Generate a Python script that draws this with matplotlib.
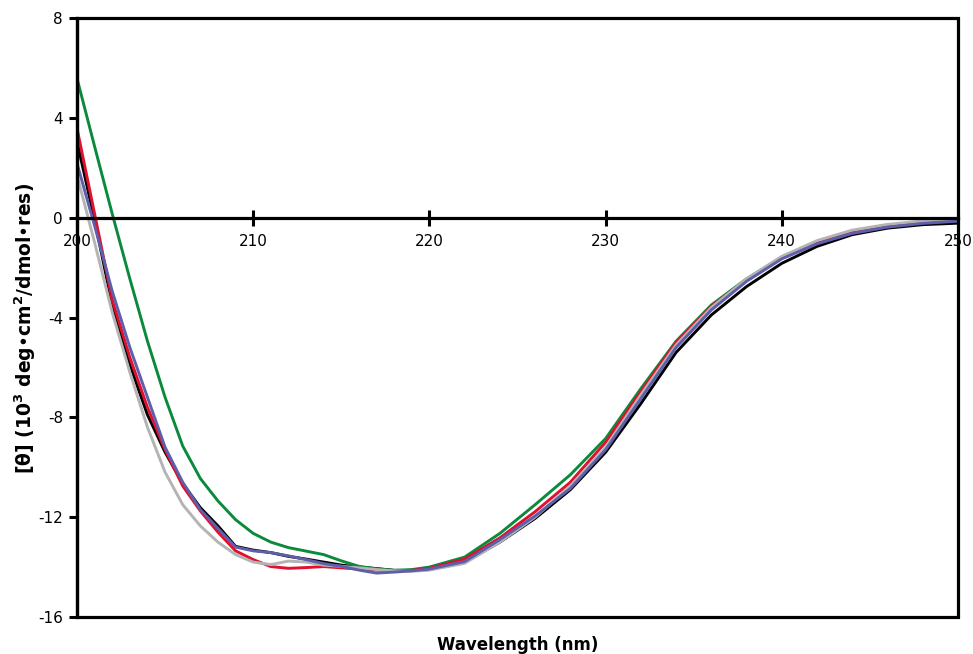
import matplotlib
matplotlib.use("Agg")
import matplotlib.pyplot as plt
from matplotlib.patches import Rectangle

plt.rcParams['font.family'] = ['DejaVu Sans']
plt.rcParams['axes.unicode_minus'] = False
plt.rcParams['mathtext.default'] = 'bf'

wavelength = [200, 201, 202, 203, 204, 205, 206, 207, 208, 209, 210,
              211, 212, 213, 214, 215, 216, 217, 218, 219, 220,
              222, 224, 226, 228, 230, 232, 234, 236, 238, 240,
              242, 244, 246, 248, 250]

black = [3.05, -0.1, -3.5, -5.9, -7.9, -9.4, -10.65, -11.62, -12.35, -13.17, -13.32,
         -13.42, -13.57, -13.68, -13.8, -13.92, -14.0, -14.06, -14.13, -14.14, -14.1,
         -13.8, -13.0, -12.05, -10.9, -9.4, -7.45, -5.4, -3.9, -2.76, -1.83,
         -1.15, -0.68, -0.42, -0.28, -0.22]

green = [5.58, 2.85, 0.15, -2.45, -4.95, -7.2, -9.15, -10.45, -11.35, -12.1, -12.65,
         -13.0, -13.22, -13.36, -13.5, -13.75, -13.97, -14.07, -14.13, -14.1, -14.0,
         -13.6, -12.65, -11.5, -10.3, -8.85, -6.85, -4.95, -3.5, -2.45, -1.58,
         -0.98, -0.57, -0.33, -0.18, -0.1]

red = [3.58, 0.15, -3.3, -5.6, -7.6, -9.3, -10.75, -11.75, -12.6, -13.35, -13.7,
       -13.98, -14.05, -14.02, -13.98, -14.03, -14.08, -14.12, -14.15, -14.13, -14.05,
       -13.68, -12.83, -11.78, -10.6, -9.0, -6.97, -5.0, -3.55, -2.5, -1.6,
       -1.0, -0.58, -0.33, -0.18, -0.1]

gray = [1.71, -1.0, -3.8, -6.2, -8.4, -10.2, -11.5, -12.35, -13.0, -13.5, -13.8,
        -13.9, -13.76, -13.8, -13.92, -13.97, -14.03, -14.1, -14.15, -14.17, -14.12,
        -13.85, -13.0, -12.0, -10.75, -9.2, -7.1, -5.1, -3.6, -2.45, -1.55,
        -0.92, -0.5, -0.27, -0.13, -0.05]

blue = [2.18, -0.33, -2.95, -5.2, -7.2, -9.2, -10.6, -11.7, -12.45, -13.2, -13.35,
        -13.42, -13.55, -13.7, -13.86, -13.97, -14.12, -14.24, -14.2, -14.15, -14.08,
        -13.78, -12.9, -11.95, -10.85, -9.3, -7.25, -5.2, -3.7, -2.55, -1.65,
        -1.05, -0.63, -0.38, -0.23, -0.14]

series = [
    (black, '#000000'),
    (green, '#0b8a3c'),
    (red, '#e0102e'),
    (gray, '#b4b4b4'),
    (blue, '#5e5eaa'),
]

x_ticks = [200, 210, 220, 230, 240, 250]
y_ticks = [-16, -12, -8, -4, 0, 4, 8]

W, H = 973, 654
fig = plt.figure(figsize=(W / 100, H / 100), dpi=100)
ax = fig.add_axes([77 / W, 1 - 617 / H, (958 - 77) / W, (617 - 18) / H])

for vals, col in series:
    ax.plot(wavelength, vals, color=col, lw=2.1, solid_joinstyle='round',
            solid_capstyle='round')

ax.set_xlim(200, 250)
ax.set_ylim(-16, 8)
ax.set_xticks(x_ticks)
ax.set_yticks(y_ticks)
ax.set_xticklabels([str(v) for v in x_ticks])
ax.set_yticklabels([str(v) for v in y_ticks])

ax.spines['bottom'].set_position(('data', 0))
for s in ['top', 'right']:
    ax.spines[s].set_visible(False)
for s in ['bottom', 'left']:
    ax.spines[s].set_linewidth(2.3)
ax.add_patch(Rectangle((0, 0), 1, 1, transform=ax.transAxes, fill=False,
                       lw=2.3, edgecolor='black', clip_on=False, zorder=3))

ax.tick_params(axis='x', direction='inout', length=12, width=2.2, labelsize=11,
               pad=6)
ax.tick_params(axis='y', direction='out', length=6, width=2.2, labelsize=11,
               pad=4)

fig.text(0.5318, 1 - 645 / H, 'Wavelength (nm)', ha='center', va='center',
         fontsize=12, fontweight='bold')
fig.text(25 / W, 1 - 328 / H, '[θ] (10$^{3}$ deg•cm$^{2}$/dmol•res)',
         ha='center', va='center', rotation=90, fontsize=13.5, fontweight='bold')

fig.savefig('out.png', dpi=100)
